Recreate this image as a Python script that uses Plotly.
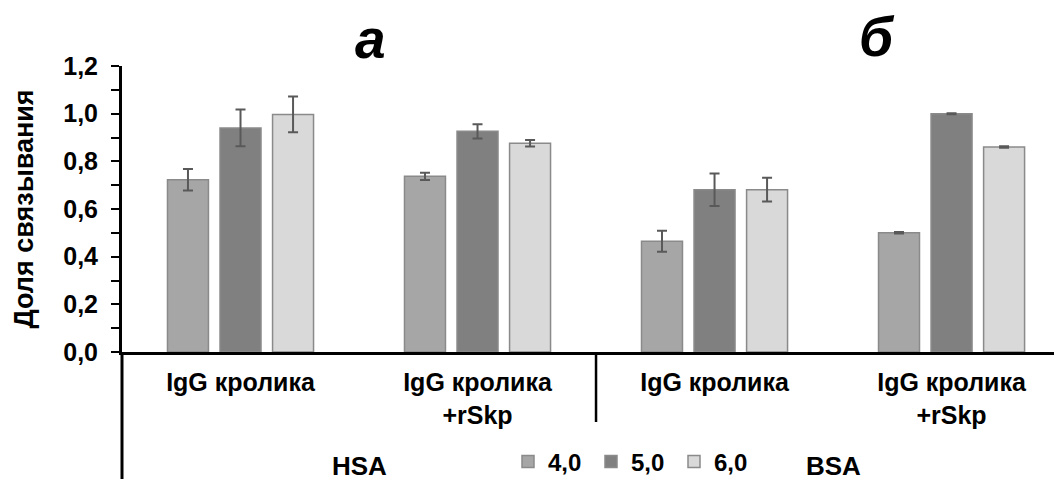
import plotly.graph_objects as go

categories = ["IgG кролика", "IgG кролика<br>+rSkp", "IgG кролика", "IgG кролика<br>+rSkp"]
series_names = ["4,0", "5,0", "6,0"]
values_40 = [0.723, 0.737, 0.465, 0.500]
values_50 = [0.940, 0.926, 0.681, 1.000]
values_60 = [0.997, 0.876, 0.681, 0.860]
err_40 = [0.045, 0.015, 0.044, 0.003]
err_50 = [0.077, 0.030, 0.068, 0.002]
err_60 = [0.075, 0.014, 0.050, 0.003]
colors = ["#a6a6a6", "#808080", "#d9d9d9"]
y_ticks = [0.0, 0.2, 0.4, 0.6, 0.8, 1.0, 1.2]
group_labels = ["HSA", "BSA"]
panel_labels = ["а", "б"]

FONT = "Liberation Sans, Arial, sans-serif"
xpos = list(range(len(categories)))

fig = go.Figure()
for name, vals, errs, col in zip(series_names, [values_40, values_50, values_60],
                                 [err_40, err_50, err_60], colors):
    fig.add_trace(go.Bar(
        x=xpos, y=vals, name=name,
        marker=dict(color=col, line=dict(color="#8a8a8a", width=1.5)),
        error_y=dict(type="data", array=errs, visible=True, color="#595959",
                     thickness=2, width=5),
    ))

OFF = 8  # page body margin
W, H = 1062 - OFF, 479 - OFF
L, R, T, B = 122 - OFF, 0, 66 - OFF, 127
ph = H - T - B
pw = W - L - R

def py(px):
    return (H - B - (px - OFF)) / ph

def pxp(px):
    return (px - OFF - L) / pw

fig.update_layout(
    width=W, height=H, autosize=False,
    margin=dict(l=L, r=R, t=T, b=B, pad=0, autoexpand=False),
    paper_bgcolor="white", plot_bgcolor="white",
    barmode="group", bargap=0.335, bargroupgap=0.22,
    separators=", ",
    font=dict(family=FONT, color="black"),
    showlegend=True,
    legend=dict(orientation="h", x=pxp(508), xanchor="left", y=py(462), yanchor="middle",
                font=dict(size=24, weight="bold", family=FONT),
                itemwidth=30, entrywidth=38, entrywidthmode="pixels",
                bgcolor="rgba(0,0,0,0)", tracegroupgap=0, itemclick=False),
    xaxis=dict(range=[-0.5, 3.466], tickmode="array", tickvals=xpos, ticktext=categories,
               showline=True, linecolor="black", linewidth=3, ticks="", showgrid=False,
               zeroline=False, tickfont=dict(size=25, weight="bold", family=FONT),
               ticklabelstandoff=6, fixedrange=True, automargin=False),
    yaxis=dict(range=[0, 1.2], tickmode="array", tickvals=y_ticks, tickformat=".1f",
               showline=True, linecolor="black", linewidth=3, ticks="outside",
               ticklen=8, tickwidth=2, tickcolor="black", showgrid=False, zeroline=False,
               minor=dict(dtick=0.1, ticks="outside", ticklen=8, tickwidth=2, tickcolor="black"),
               tickfont=dict(size=25, weight="bold", family=FONT),
               ticklabelstandoff=8, automargin=False,
               title=dict(text="Доля связывания", font=dict(size=27, weight="bold", family=FONT),
                          standoff=22),
               fixedrange=True),
)

# multi-level axis lines
fig.add_shape(type="line", xref="paper", yref="paper", x0=0, x1=0, y0=0, y1=py(490),
              line=dict(color="black", width=3))
fig.add_shape(type="line", xref="x", yref="paper", x0=1.5, x1=1.5, y0=0, y1=py(422),
              line=dict(color="black", width=2.5))

# group labels
for gx, g in zip([0.5, 2.5], group_labels):
    fig.add_annotation(x=gx, xref="x", y=py(466), yref="paper", text=g, showarrow=False,
                       font=dict(size=26, weight="bold", family=FONT), xanchor="center",
                       yanchor="middle")

# panel labels
for px_, py_, t in [(370, 39, panel_labels[0]), (877, 37, panel_labels[1])]:
    fig.add_annotation(x=pxp(px_), xref="paper", y=py(py_), yref="paper",
                       text=t, showarrow=False, xanchor="center", yanchor="middle",
                       font=dict(size=55, weight="bold", style="italic", family=FONT))

fig.write_html("out.html")
